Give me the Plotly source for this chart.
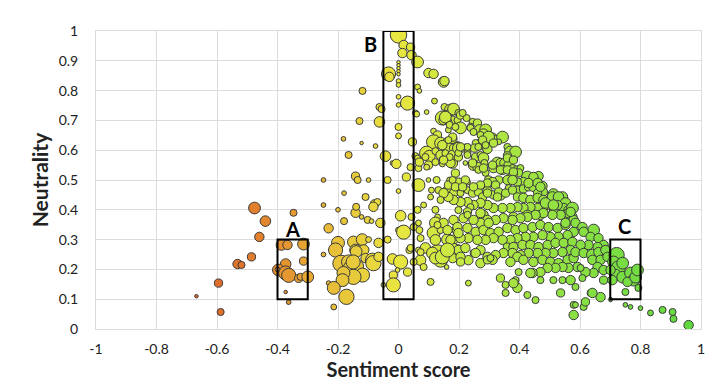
import plotly.graph_objects as go

# ---- data: (sentiment, neutrality, bubble size) ----
pts = [
# orange left
(-0.476,0.406,10),(-0.440,0.362,9),(-0.460,0.309,8),(-0.486,0.242,7),(-0.532,0.218,8),
(-0.519,0.215,6),(-0.595,0.154,7),(-0.668,0.110,3),(-0.588,0.057,6),(-0.347,0.390,6),
# box A
(-0.387,0.282,9),(-0.367,0.282,8),(-0.314,0.285,10),(-0.314,0.228,7),(-0.373,0.218,9),
(-0.397,0.198,10),(-0.373,0.188,12),(-0.363,0.180,12),(-0.330,0.170,7),(-0.324,0.175,6),
(-0.300,0.175,10),(-0.373,0.124,3),(-0.363,0.090,4),(-0.400,0.200,4),
# yellow-orange cluster
(-0.248,0.500,4),(-0.248,0.416,4),(-0.200,0.400,4),(-0.180,0.456,4),(-0.142,0.513,7),
(-0.135,0.500,6),(-0.099,0.500,4),(-0.109,0.443,6),(-0.079,0.420,7),(-0.070,0.426,6),
(-0.083,0.410,8),(-0.142,0.390,8),(-0.180,0.362,6),(-0.122,0.376,4),(-0.102,0.366,6),
(-0.089,0.362,4),(-0.060,0.356,8),(-0.231,0.338,8),(-0.200,0.289,11),(-0.208,0.265,12),
(-0.248,0.250,4),(-0.149,0.292,10),(-0.120,0.300,10),(-0.099,0.300,5),(-0.142,0.265,10),
(-0.115,0.265,9),(-0.066,0.289,8),(-0.190,0.220,14),(-0.165,0.225,12),(-0.159,0.205,12),
(-0.135,0.211,10),(-0.109,0.238,8),(-0.086,0.231,12),(-0.083,0.221,13),(-0.119,0.181,12),
(-0.149,0.175,13),(-0.182,0.188,11),(-0.185,0.164,11),(-0.231,0.154,4),(-0.214,0.138,11),
(-0.172,0.108,13),(-0.214,0.074,5),(-0.066,0.242,8),(-0.050,0.148,4),(-0.140,0.410,6),
(-0.140,0.260,10),(-0.150,0.225,12),
# upper left of B
(-0.119,0.799,6),(-0.129,0.698,6),(-0.182,0.638,4),(-0.122,0.624,3),(-0.076,0.614,4),
(-0.165,0.584,6),(-0.063,0.745,6),(-0.056,0.738,6),(-0.063,0.695,9),
# box B
(0.000,0.987,14),(0.017,0.953,8),(0.013,0.926,8),(0.040,0.946,7),(0.043,0.919,8),
(0.063,0.896,10),(0.000,0.895,3),(0.000,0.885,3),(0.000,0.875,3),(0.000,0.865,3),
(0.000,0.855,3),(-0.033,0.856,12),(-0.030,0.846,8),(0.000,0.832,4),(0.000,0.819,4),
(0.000,0.779,4),(0.000,0.752,4),(0.030,0.758,12),(0.056,0.725,5),(0.000,0.678,6),
(0.000,0.648,5),(0.046,0.628,7),(-0.043,0.580,9),(-0.020,0.557,4),(-0.007,0.554,8),
(0.040,0.543,6),(0.056,0.580,6),(0.000,0.463,4),(-0.036,0.500,6),(0.007,0.380,9),
(0.000,0.332,5),(0.017,0.325,12),(-0.036,0.300,6),(-0.020,0.235,9),(0.007,0.225,12),
(0.030,0.191,7),(-0.017,0.181,7),(-0.003,0.198,4),(-0.017,0.148,12),(0.036,0.265,6),
(0.043,0.376,6),(0.026,0.510,7),
# right of B, low
(0.066,0.540,6),(0.066,0.483,11),(0.099,0.500,4),(0.126,0.500,6),(0.109,0.466,5),
(0.132,0.466,6),(0.162,0.466,8),(0.188,0.523,7),(0.178,0.557,9),(0.063,0.400,6),
(0.083,0.416,5),(0.066,0.356,5),(0.069,0.332,6),(0.122,0.400,6),(0.129,0.376,5),
(0.122,0.356,10),(0.116,0.322,11),(0.139,0.332,6),(0.162,0.300,10),(0.182,0.300,8),
(0.188,0.332,6),(0.195,0.272,6),(0.178,0.265,12),(0.129,0.255,14),(0.139,0.231,12),
(0.073,0.231,9),(0.089,0.272,9),(0.066,0.265,5),(0.106,0.158,6),(0.159,0.208,4),
(0.083,0.208,6),
# upper 0.06-0.2
(0.099,0.859,8),(0.116,0.856,8),(0.149,0.829,9),(0.152,0.832,8),(0.063,0.812,5),
(0.069,0.799,4),(0.119,0.765,5),(0.093,0.728,4),(0.060,0.721,5),(0.152,0.745,6),
(0.172,0.735,10),(0.162,0.725,5),(0.145,0.708,12),(0.149,0.701,8),(0.178,0.701,7),
(0.165,0.695,6),(0.195,0.701,6),(0.165,0.668,5),(0.195,0.674,6),(0.116,0.664,5),
(0.129,0.651,7),(0.116,0.628,12),(0.139,0.624,10),(0.162,0.624,9),(0.178,0.638,8),
(0.165,0.607,9),(0.182,0.607,7),(0.195,0.617,6),(0.093,0.590,12),(0.102,0.580,10),
(0.122,0.597,6),(0.139,0.584,8),(0.155,0.590,6),(0.178,0.584,8),(0.089,0.577,6),
(0.099,0.550,7),(0.063,0.574,5),(0.069,0.560,7),(0.093,0.543,5),(0.122,0.560,6),
(0.145,0.554,5),(0.172,0.557,8),
# descending upper edge
(0.182,0.738,10),(0.155,0.711,10),(0.198,0.725,6),(0.205,0.718,7),(0.225,0.708,6),
(0.245,0.695,6),(0.261,0.691,7),(0.238,0.681,5),(0.268,0.668,9),(0.288,0.668,10),
(0.281,0.654,9),(0.311,0.644,7),(0.321,0.638,6),(0.344,0.644,10),(0.331,0.628,5),
(0.298,0.628,8),(0.291,0.621,8),(0.284,0.611,6),(0.271,0.628,6),(0.255,0.624,6),
(0.251,0.607,7),(0.294,0.604,8),(0.360,0.611,6),(0.370,0.594,10),(0.387,0.594,10),
(0.360,0.581,7),(0.169,0.685,6),(0.205,0.675,10),(0.188,0.678,6),(0.179,0.644,7),
(0.145,0.617,8),(0.198,0.607,10),(0.221,0.611,5),(0.228,0.591,6),(0.145,0.570,5),
(0.169,0.577,6),(0.198,0.577,7),(0.255,0.577,7),(0.271,0.584,6),(0.281,0.574,9),
(0.284,0.557,6),(0.248,0.550,9),(0.261,0.544,8),(0.264,0.534,6),(0.288,0.524,6),
(0.221,0.557,4),(0.327,0.557,10),(0.337,0.557,8),(0.350,0.557,8),(0.364,0.550,8),
(0.314,0.540,8),(0.344,0.534,8),(0.377,0.540,6),(0.393,0.534,7),(0.403,0.540,6),
(0.397,0.524,7),(0.426,0.510,10),(0.463,0.513,8),(0.446,0.500,8),(0.377,0.517,8),
(0.413,0.493,8),(0.393,0.493,7),(0.360,0.500,8),(0.331,0.500,7),(0.298,0.500,7),
(0.311,0.493,8),(0.288,0.483,6),(0.261,0.477,6),(0.228,0.493,5),(0.198,0.493,7),
(0.169,0.500,5),(0.165,0.483,7),(0.182,0.456,7),(0.205,0.456,6),(0.228,0.466,6),
(0.245,0.456,7),(0.264,0.460,7),(0.294,0.463,8),(0.314,0.450,7),(0.337,0.450,9),
(0.364,0.473,6),(0.393,0.466,7),(0.413,0.470,7),(0.430,0.477,7),(0.446,0.477,8),
(0.476,0.480,8),(0.479,0.460,7),(0.460,0.456,7),(0.512,0.453,9),(0.542,0.443,9),
# middle band
(0.212,0.725,6),(0.238,0.675,6),(0.248,0.661,6),(0.271,0.651,6),(0.298,0.644,10),
(0.278,0.634,7),(0.314,0.624,7),(0.288,0.617,6),(0.264,0.611,6),(0.228,0.611,6),
(0.165,0.634,6),(0.149,0.567,7),(0.198,0.591,6),(0.205,0.611,7),(0.228,0.584,6),
(0.245,0.557,7),(0.281,0.540,7),(0.311,0.550,7),(0.360,0.574,7),(0.380,0.567,7),
(0.337,0.534,7),(0.360,0.534,7),(0.380,0.527,7),(0.446,0.510,8),(0.430,0.490,8),
(0.460,0.490,8),(0.469,0.477,8),(0.377,0.500,8),(0.321,0.483,7),(0.294,0.490,7),
(0.271,0.483,7),(0.248,0.477,7),(0.221,0.500,7),(0.179,0.500,6),(0.188,0.477,7),
(0.212,0.477,7),(0.278,0.443,7),(0.294,0.456,7),(0.331,0.460,7),(0.327,0.443,7),
(0.354,0.456,7),(0.377,0.466,7),(0.393,0.443,7),(0.413,0.440,8),(0.436,0.433,8),
(0.460,0.440,8),(0.479,0.433,8),(0.509,0.443,9),(0.529,0.443,9),(0.552,0.423,9),
(0.546,0.406,8),(0.562,0.399,8),(0.526,0.416,8),(0.502,0.416,8),(0.479,0.409,8),
(0.460,0.406,8),(0.436,0.409,8),(0.413,0.406,8),(0.393,0.409,8),(0.370,0.406,8),
(0.344,0.406,8),(0.314,0.406,8),(0.294,0.416,8),(0.271,0.423,8),(0.248,0.416,8),
(0.228,0.426,8),(0.205,0.426,8),(0.182,0.433,8),(0.165,0.443,8),(0.149,0.456,8),
(0.198,0.399,6),(0.238,0.409,6),(0.281,0.383,8),(0.380,0.376,8),(0.426,0.383,8),
(0.469,0.383,8),(0.512,0.389,8),(0.546,0.383,8),(0.575,0.376,8),
# dense lower band
(0.228,0.393,7),(0.271,0.389,8),(0.486,0.423,9),(0.512,0.416,9),(0.575,0.406,10),
(0.562,0.389,8),(0.536,0.383,8),(0.509,0.383,8),(0.479,0.389,8),(0.453,0.383,8),
(0.426,0.376,8),(0.403,0.372,8),(0.377,0.366,8),(0.347,0.372,8),(0.321,0.366,8),
(0.294,0.366,8),(0.271,0.356,8),(0.248,0.366,8),(0.215,0.372,8),(0.182,0.366,8),
(0.149,0.356,8),(0.162,0.332,8),(0.195,0.342,8),(0.228,0.339,8),(0.255,0.326,8),
(0.281,0.332,8),(0.304,0.322,8),(0.331,0.326,8),(0.360,0.339,8),(0.387,0.332,8),
(0.413,0.339,8),(0.443,0.342,8),(0.469,0.349,8),(0.496,0.342,8),(0.526,0.339,8),
(0.552,0.349,8),(0.579,0.366,8),(0.579,0.326,8),(0.559,0.315,8),(0.529,0.309,8),
(0.502,0.309,8),(0.476,0.315,8),(0.446,0.309,8),(0.420,0.309,8),(0.393,0.305,8),
(0.370,0.299,8),(0.344,0.299,8),(0.314,0.305,8),(0.288,0.299,8),(0.261,0.299,8),
(0.231,0.305,8),(0.205,0.305,8),(0.172,0.299,8),(0.198,0.265,8),(0.221,0.272,8),
(0.248,0.255,6),(0.271,0.265,8),(0.360,0.275,7),(0.380,0.275,8),(0.410,0.282,8),
(0.436,0.282,8),(0.463,0.275,8),(0.493,0.282,8),(0.519,0.289,8),(0.546,0.289,8),
(0.575,0.292,8),(0.569,0.265,8),(0.542,0.258,8),(0.512,0.255,8),(0.486,0.255,8),
(0.460,0.255,8),(0.430,0.255,8),(0.403,0.248,8),(0.377,0.255,8),(0.347,0.255,8),
(0.321,0.248,8),(0.294,0.242,8),(0.311,0.232,8),(0.393,0.242,8),(0.370,0.225,8),
(0.413,0.232,8),(0.446,0.225,8),(0.476,0.232,8),(0.502,0.225,8),(0.529,0.221,8),
(0.559,0.232,8),(0.579,0.238,8),(0.592,0.208,8),(0.562,0.205,8),(0.542,0.208,8),
(0.519,0.205,8),(0.493,0.205,8),(0.469,0.191,8),(0.443,0.188,8),(0.397,0.191,6),
(0.387,0.164,6),(0.393,0.138,8),(0.354,0.121,6),(0.337,0.171,7),(0.271,0.221,8),
(0.179,0.238,8),(0.155,0.255,8),(0.231,0.154,5),(0.426,0.114,6),(0.453,0.097,6),
(0.436,0.188,8),(0.469,0.164,6),(0.512,0.164,6),(0.542,0.164,6),(0.569,0.164,8),
(0.585,0.141,6),(0.536,0.121,7),(0.579,0.081,6),(0.579,0.047,8),
# 0.0-0.35 extra
(0.050,0.342,6),(0.073,0.305,6),(0.040,0.272,6),(0.050,0.225,6),(0.073,0.258,6),
(0.122,0.299,9),(0.129,0.349,6),(0.106,0.443,5),(0.139,0.433,6),(0.112,0.255,10),
(0.122,0.238,10),(0.145,0.242,12),(0.162,0.265,12),(0.198,0.322,8),(0.255,0.255,8),
(0.231,0.231,8),(0.205,0.242,8),(0.205,0.225,7),(0.228,0.383,6),(0.298,0.356,8),
(0.294,0.232,7),(0.304,0.238,6),(0.354,0.148,6),(0.380,0.154,8),
# tail
(0.612,0.074,6),(0.618,0.091,7),(0.635,0.121,6),(0.668,0.107,8),(0.701,0.097,3),
(0.750,0.081,4),(0.767,0.074,4),(0.800,0.070,4),(0.833,0.054,5),(0.873,0.064,6),
(0.906,0.057,6),(0.909,0.034,6),(0.959,0.013,8),
# 0.55-0.7
(0.569,0.393,8),(0.552,0.356,8),(0.585,0.356,8),(0.608,0.342,8),(0.645,0.332,10),
(0.612,0.326,8),(0.635,0.309,8),(0.661,0.305,8),(0.678,0.282,8),(0.658,0.275,8),
(0.628,0.282,8),(0.602,0.282,8),(0.585,0.258,8),(0.612,0.255,8),(0.641,0.248,10),
(0.661,0.258,8),(0.684,0.265,8),(0.641,0.232,8),(0.668,0.232,8),(0.691,0.242,8),
(0.658,0.208,8),(0.678,0.198,8),(0.645,0.188,8),(0.618,0.191,8),(0.602,0.205,6),
(0.608,0.171,6),(0.678,0.164,7),(0.641,0.121,8),(0.585,0.081,5),
# box C
(0.721,0.248,13),(0.711,0.225,10),(0.727,0.205,12),(0.717,0.181,10),(0.741,0.174,10),
(0.767,0.188,10),(0.777,0.164,10),(0.757,0.158,8),(0.784,0.174,10),(0.790,0.198,10),
(0.750,0.124,6),(0.793,0.138,6),(0.701,0.101,3),(0.741,0.221,10),(0.701,0.198,8),
(0.707,0.164,8),
]
sentiment = [p[0] for p in pts]
neutrality = [p[1] for p in pts]
bubble_size = [p[2] for p in pts]

x_ticks = [-1, -0.8, -0.6, -0.4, -0.2, 0, 0.2, 0.4, 0.6, 0.8, 1]
x_tick_labels = ["-1", "-0.8", "-0.6", "-0.4", "-0.2", "0", "0.2", "0.4", "0.6", "0.8", "1"]
y_ticks = [0, 0.1, 0.2, 0.3, 0.4, 0.5, 0.6, 0.7, 0.8, 0.9, 1]
y_tick_labels = ["0", "0.1", "0.2", "0.3", "0.4", "0.5", "0.6", "0.7", "0.8", "0.9", "1"]

box_labels = ["A", "B", "C"]
box_x0 = [-0.4, -0.05, 0.7]
box_x1 = [-0.3, 0.05, 0.8]
box_y0 = [0.1, 0.1, 0.1]
box_y1 = [0.3, 1.0, 0.3]
label_x = [-0.35, -0.093, 0.747]
label_y = [0.336, 0.956, 0.345]

colorscale = [
    [0.0, "#DC5E28"], [0.118, "#E07A2E"], [0.206, "#E69A30"], [0.294, "#E8C23A"],
    [0.412, "#E8E640"], [0.529, "#C6E842"], [0.647, "#A4E442"], [0.765, "#88E042"],
    [0.882, "#72DC42"], [1.0, "#5CD83E"],
]

fig = go.Figure()
fig.add_trace(go.Scatter(
    x=sentiment, y=neutrality, mode="markers",
    marker=dict(size=bubble_size, sizemode="diameter", sizeref=0.85, color=sentiment,
                colorscale=colorscale, cmin=-0.7, cmax=1.0,
                line=dict(color="#3A3A3A", width=1), opacity=1),
    hoverinfo="x+y", showlegend=False,
))

for lab, x0, x1, y0, y1, lx, ly in zip(box_labels, box_x0, box_x1, box_y0, box_y1, label_x, label_y):
    fig.add_shape(type="rect", xref="x", yref="y", x0=x0, x1=x1, y0=y0, y1=y1,
                  line=dict(color="black", width=2), fillcolor="rgba(0,0,0,0)")
    fig.add_annotation(x=lx, y=ly, xref="x", yref="y", text="<b>%s</b>" % lab,
                       showarrow=False, font=dict(size=20, color="black", family="Lato"))

fig.update_layout(
    width=720, height=387,
    margin=dict(l=96, r=19, t=31, b=58, autoexpand=False),
    paper_bgcolor="white", plot_bgcolor="white",
    font=dict(family="Lato", color="#222222"),
)
fig.update_xaxes(range=[-1, 1], tickvals=x_ticks, ticktext=x_tick_labels, automargin=False,
                 showgrid=True, gridcolor="#DCDCDC", gridwidth=1, zeroline=False,
                 showline=True, linecolor="#DCDCDC", mirror=True,
                 ticks="", ticklabelstandoff=7, tickfont=dict(size=14, color="#222"),
                 title=dict(text="<b>Sentiment score</b>", font=dict(size=20, color="#222"), standoff=5))
fig.update_yaxes(range=[0, 1], tickvals=y_ticks, ticktext=y_tick_labels, automargin=False,
                 showgrid=True, gridcolor="#DCDCDC", gridwidth=1, zeroline=False,
                 showline=True, linecolor="#DCDCDC", mirror=True,
                 ticks="", ticklabelstandoff=14, tickfont=dict(size=14, color="#222"),
                 title=dict(text="<b>Neutrality</b>", font=dict(size=21, color="#222"), standoff=4))

# remove the browser's default 8px page margin so the 720x387 figure fills the window
fig.write_html("out.html", config={"displayModeBar": False},
               post_script="document.body.style.margin='0px';")
